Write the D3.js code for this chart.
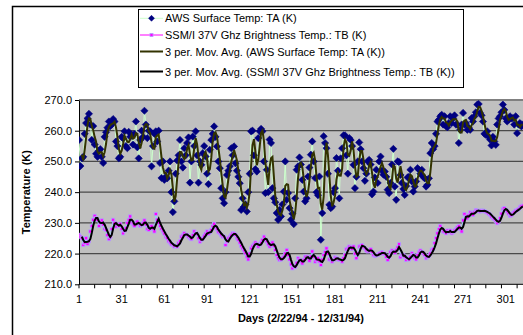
<!DOCTYPE html>
<html>
<head>
<meta charset="utf-8">
<script src="https://cdn.jsdelivr.net/npm/d3@7/dist/d3.min.js"></script>
<style>
  html, body { margin: 0; padding: 0; background: #ffffff; }
  svg { display: block; font-family: "Liberation Sans", Arial, sans-serif; }
</style>
</head>
<body>
<svg id="chart" width="523" height="335"></svg>
<script>
// ---------------- DATA ----------------
const dayCount = 313;
const xTickLabels = [1, 31, 61, 91, 121, 151, 181, 211, 241, 271, 301];
const yTickValues = [210, 220, 230, 240, 250, 260, 270];
const seriesNames = [
  "AWS Surface Temp: TA (K)",
  "SSM/I 37V Ghz Brightness Temp.: TB (K)",
  "3 per. Mov. Avg. (AWS Surface Temp: TA (K))",
  "3 per. Mov. Avg. (SSM/I 37V Ghz Brightness Temp.: TB (K))"
];
const yTitle = "Temperature (K)";
const xTitle = "Days (2/22/94 - 12/31/94)";

// AWS surface temperature TA (K), days 1..313
const awsTA = [
  257, 248.5, 251, 251.5, 259, 262.5, 264, 265.5, 262, 257,
  261.5, 255.5, 252.5, 251.5, 253.5, 254, 251.5, 249.5, 258, 259.5,
  261, 263, 261.5, 262, 263.8, 263, 256.5, 255, 251, 251.5,
  258, 257.5, 259.8, 255, 254.3, 259.6, 258, 258.7, 255.5, 259,
  263, 254.6, 251, 257, 260, 258, 266.5, 262, 257.6, 260,
  259.8, 248.4, 255, 259, 259.8, 256.5, 260, 249.5, 244.6, 250,
  244, 245, 244.5, 247, 250, 240, 233.5, 237, 246, 250.3,
  252, 257, 250, 248, 254.3, 252, 256, 257.8, 243.1, 250,
  258.1, 255, 259.8, 252, 243.1, 250, 248.9, 252.7, 255, 251.6,
  246, 242.6, 253.8, 257, 259, 261.4, 258, 254.9, 250, 247.8,
  241.3, 238, 236.4, 240, 245.6, 247, 248.4, 254.3, 252, 254.9,
  249.4, 247, 245, 242.9, 234.2, 238, 235.3, 236, 233.7, 240,
  246, 259.8, 260, 252, 247.5, 246.7, 257.6, 259.8, 260.6, 259.8,
  250, 239.7, 247.3, 240, 257.1, 256, 241.3, 238, 236.7, 233.2,
  231, 234.2, 232.1, 236, 240.2, 250, 237.5, 239.7, 234.8, 231,
  233, 229.6, 238, 247.3, 248.4, 251.3, 249, 244, 240.2, 237,
  238, 245.1, 248, 252.2, 256.5, 250, 244.6, 240, 239, 245.1,
  224.5, 233.2, 258.2, 256, 254.3, 246, 235.9, 234.8, 235.3, 240,
  241.3, 251.1, 247, 238, 251, 254.3, 258.5, 258.5, 252, 246,
  257.6, 257, 255, 248.9, 241.3, 245, 250, 256.2, 254, 250,
  247.8, 243.7, 246, 250, 250.5, 249, 239.3, 240.2, 244.8, 247.3,
  243, 250, 251.6, 247, 245.7, 246.7, 245, 240.8, 239.7, 243,
  249, 254.1, 241.8, 237.5, 250, 249.8, 245.6, 243, 241, 239.1,
  242, 244.8, 245, 247.3, 243.5, 240.2, 241.8, 243.5, 247.8, 247.3,
  246, 247.3, 245, 244.5, 241.8, 242.4, 244.5, 252.7, 256, 254,
  255, 259, 263, 263.6, 264.7, 265.2, 262, 264.7, 261.5, 261.1,
  262.5, 264.7, 262.5, 264, 265, 262, 262, 256, 260.3, 262,
  265.8, 262, 262.5, 260.3, 261, 260.3, 264.1, 263, 264.7, 266,
  268.5, 268.7, 265.8, 265, 263, 259, 258.7, 259.8, 258, 257.1,
  255.2, 258, 256.5, 255.4, 262, 264, 264.7, 266, 268.5, 266.8,
  264, 263, 263.6, 264.7, 264, 264.1, 262, 264.7, 259.2, 262,
  262.5, 261.4, 262
];

// SSM/I 37V GHz brightness temperature TB (K), days 1..313
const ssmiTB = [
  226.1, 225.5, 225, 222.8, 223.5, 225, 223.1, 224, 227.2, 229,
  231, 232.3, 231.5, 231, 229, 230, 230.8, 229.5, 228, 227.7,
  226, 224.7, 225.5, 228, 231, 230, 228.8, 229.5, 229, 229.7,
  228, 226.6, 227.5, 228.3, 230, 231, 232.1, 230, 229.5, 229,
  230, 230.4, 229.5, 229, 229.3, 230, 230.8, 229.5, 228, 227.7,
  228.5, 229, 228, 227.2, 232.9, 231, 230.1, 229, 228, 227.2,
  226.5, 225.5, 225, 224, 223.6, 223, 222.8, 222.3, 222.5, 222.3,
  223.5, 224, 225.5, 226, 226.6, 226, 226.1, 225.5, 225, 224.7,
  226, 227.2, 226.5, 226.4, 225, 223.9, 224.5, 225, 225.8, 226.5,
  227.2, 226.5, 227, 227.7, 229, 229.7, 228.5, 227.9, 227, 226.6,
  226, 225.5, 225.5, 222.8, 224, 225, 225.5, 226, 226.6, 226.5,
  226.1, 225, 224.5, 223.6, 222.5, 221.7, 221, 220.1, 219, 218.1,
  220, 221.7, 222.5, 223, 223.6, 223, 222.3, 223, 223.6, 224.5,
  225.5, 224.5, 223.9, 223, 222.3, 223, 223.6, 222.5, 221.2, 219.5,
  218.5, 217.9, 218.1, 218.5, 219, 220, 221.2, 219.5, 218.1, 216.5,
  215.2, 216, 215.7, 217, 218.5, 218, 217.4, 216.8, 218, 219,
  219, 218.5, 217.7, 219, 220.7, 219, 217.4, 218, 218.5, 217.5,
  216.3, 218, 219.6, 220.5, 221.7, 220, 218.1, 218, 217.4, 218,
  218.8, 218.5, 218.1, 218, 217.9, 217.4, 218.5, 219.6, 221.4, 221.7,
  222.3, 222, 221.5, 222.3, 220, 218.5, 220, 222.3, 222.5, 222.8,
  222, 221.7, 221, 220.7, 221, 221.4, 220.5, 219.5, 219.2, 219.5,
  219.6, 220, 220.1, 220.5, 220, 219.9, 219, 217.9, 219, 220.5,
  221, 220.5, 220.3, 221.2, 222, 223.1, 218.8, 219.5, 219.6, 219,
  217.9, 218.5, 218.1, 219, 220.1, 219.5, 218.5, 218.1, 219.5, 220.5,
  221, 220.5, 220.1, 219.5, 218.5, 219, 219.2, 220, 221.2, 221.5,
  223.4, 225, 226.6, 228, 229, 228, 227.2, 227, 226.6, 227.5,
  227, 227.5, 226.6, 227, 227.5, 228, 228.5, 229, 228, 227.2,
  230.8, 232.9, 232, 231.5, 232.5, 233.4, 233, 232.6, 233.5, 234.2,
  234, 233.8, 233.7, 234, 234, 233.8, 233.5, 233.4, 233, 232.6,
  232, 231.5, 231.2, 230.5, 229.9, 230.5, 231.5, 233, 234.5, 234.8,
  234.2, 233.7, 233, 232.3, 232.5, 233.2, 233.5, 234, 234.2, 234.5,
  235.1, 235.4, 235.6
];

// ---------------- CHART ----------------
const svg = d3.select("#chart");
const plot = { left: 79, right: 522.8, top: 100, bottom: 284.3 };

const days = d3.range(1, dayCount + 1);
const x = d3.scaleLinear().domain([1, dayCount]).range([plot.left, plot.right]);
const y = d3.scaleLinear().domain([210, 270]).range([plot.bottom, plot.top]);

// chart area border (cropped at right/bottom)
svg.append("path")
  .attr("d", `M12.5,340 L12.5,6.5 L530,6.5`)
  .attr("fill", "none").attr("stroke", "#000").attr("stroke-width", 1.5);

// plot area background
svg.append("rect")
  .attr("x", plot.left).attr("y", plot.top)
  .attr("width", plot.right - plot.left + 5).attr("height", plot.bottom - plot.top)
  .attr("fill", "#c0c0c0");

// gridlines
svg.append("g").selectAll("line").data(yTickValues.filter(v => v > 210 && v < 270)).join("line")
  .attr("x1", plot.left).attr("x2", 530)
  .attr("y1", d => y(d)).attr("y2", d => y(d))
  .attr("stroke", "#4a4a4a").attr("stroke-width", 1.3);

// plot top border
svg.append("line")
  .attr("x1", plot.left).attr("x2", 530).attr("y1", plot.top).attr("y2", plot.top)
  .attr("stroke", "#808080").attr("stroke-width", 2);

// Y axis
const yAxis = d3.axisLeft(y).tickValues(yTickValues).tickSize(4).tickSizeOuter(0)
  .tickFormat(d3.format(".1f"));
const gy = svg.append("g").attr("transform", `translate(${plot.left},0)`).call(yAxis);
gy.select(".domain").attr("stroke", "#000").attr("stroke-width", 1);
gy.selectAll(".tick line").attr("stroke", "#000");
gy.selectAll(".tick text").attr("font-size", 11).attr("fill", "#000")
  .attr("font-family", "Liberation Sans, Arial, sans-serif").attr("x", -7);

// X axis: ticks every 11 days, labels every 30 days
const tickDays = d3.range(1, dayCount + 1, 11);
const gx = svg.append("g").attr("transform", `translate(0,${plot.bottom})`);
gx.append("line").attr("x1", plot.left).attr("x2", 530).attr("y1", 0).attr("y2", 0)
  .attr("stroke", "#000").attr("stroke-width", 1);
gx.selectAll("line.tk").data(tickDays).join("line").attr("class", "tk")
  .attr("x1", d => x(d)).attr("x2", d => x(d)).attr("y1", 0).attr("y2", 4)
  .attr("stroke", "#000");
gx.selectAll("text").data(xTickLabels).join("text")
  .attr("x", d => x(d)).attr("y", 19).attr("text-anchor", "middle")
  .attr("font-size", 11).text(d => d);

// axis titles
svg.append("text")
  .attr("transform", `translate(30,${(plot.top + plot.bottom) / 2}) rotate(-90)`)
  .attr("text-anchor", "middle").attr("font-size", 11).attr("font-weight", "bold")
  .text(yTitle);
svg.append("text")
  .attr("x", (plot.left + plot.right) / 2).attr("y", 321.5)
  .attr("text-anchor", "middle").attr("font-size", 11).attr("font-weight", "bold")
  .text(xTitle);

// moving average (3-period, Excel trendline style)
function movAvg(arr, n) {
  const out = [];
  for (let i = n - 1; i < arr.length; i++) {
    let s = 0;
    for (let k = 0; k < n; k++) s += arr[i - k];
    out.push({ d: i + 1, v: s / n });
  }
  return out;
}
const taPts = awsTA.map((v, i) => ({ d: days[i], v }));
const tbPts = ssmiTB.map((v, i) => ({ d: days[i], v }));
const taMA = movAvg(awsTA, 3);
const tbMA = movAvg(ssmiTB, 3);

const line = d3.line().x(p => x(p.d)).y(p => y(p.v));
svg.append("clipPath").attr("id", "clipPlot").append("rect")
  .attr("x", plot.left).attr("y", plot.top - 5).attr("width", 460).attr("height", plot.bottom - plot.top + 10);
const gp = svg.append("g").attr("clip-path", "url(#clipPlot)");

const diamond = r => `M0,${-r}L${r},0L0,${r}L${-r},0Z`;

// TA series
gp.append("path").datum(taPts).attr("d", line)
  .attr("fill", "none").attr("stroke", "#ccffcc").attr("stroke-width", 1);
gp.append("g").selectAll("path").data(taPts).join("path")
  .attr("transform", p => `translate(${x(p.d)},${y(p.v)})`)
  .attr("d", diamond(3.6)).attr("fill", "#000080").attr("stroke", "#000080").attr("stroke-width", 0.6);

// TB series
gp.append("path").datum(tbPts).attr("d", line)
  .attr("fill", "none").attr("stroke", "#99ccff").attr("stroke-width", 1);
gp.append("g").selectAll("rect").data(tbPts).join("rect")
  .attr("x", p => x(p.d) - 1.6).attr("y", p => y(p.v) - 1.6)
  .attr("width", 3.2).attr("height", 3.2)
  .attr("fill", "#ff00ff").attr("stroke", "#b0a0ff").attr("stroke-width", 0.8);

// moving averages on top
gp.append("path").datum(taMA).attr("d", line)
  .attr("fill", "none").attr("stroke", "#333300").attr("stroke-width", 2);
gp.append("path").datum(tbMA).attr("d", line)
  .attr("fill", "none").attr("stroke", "#000000").attr("stroke-width", 2);

// ---------------- LEGEND ----------------
const lg = { x: 138.5, y: 9.5, w: 325, h: 78 };
const legend = svg.append("g");
legend.append("rect").attr("x", lg.x).attr("y", lg.y).attr("width", lg.w).attr("height", lg.h)
  .attr("fill", "#fff").attr("stroke", "#000").attr("stroke-width", 1);
const rowY = [18.3, 35, 51.5, 71.5];
const legendStyles = [
  { line: "#ccffcc", w: 1, marker: "diamond" },
  { line: "#ff00ff", w: 1, marker: "square" },
  { line: "#333300", w: 2, marker: null },
  { line: "#000000", w: 2, marker: null }
];
seriesNames.forEach((name, i) => {
  const g = legend.append("g").attr("transform", `translate(0,${rowY[i]})`);
  const st = legendStyles[i];
  g.append("line").attr("x1", 140).attr("x2", 163).attr("y1", 0).attr("y2", 0)
    .attr("stroke", st.line).attr("stroke-width", st.w);
  if (st.marker === "diamond") {
    g.append("path").attr("transform", "translate(151.5,0)").attr("d", diamond(3))
      .attr("fill", "#000080").attr("stroke", "#000080").attr("stroke-width", 0.5);
  } else if (st.marker === "square") {
    g.append("rect").attr("x", 150).attr("y", -1.5).attr("width", 3).attr("height", 3)
      .attr("fill", "#ff00ff").attr("stroke", "#b0a0ff").attr("stroke-width", 0.8);
  }
  g.append("text").attr("x", 165).attr("y", 4).attr("font-size", 11).attr("fill", "#000")
    .text(name);
});
</script>
</body>
</html>
